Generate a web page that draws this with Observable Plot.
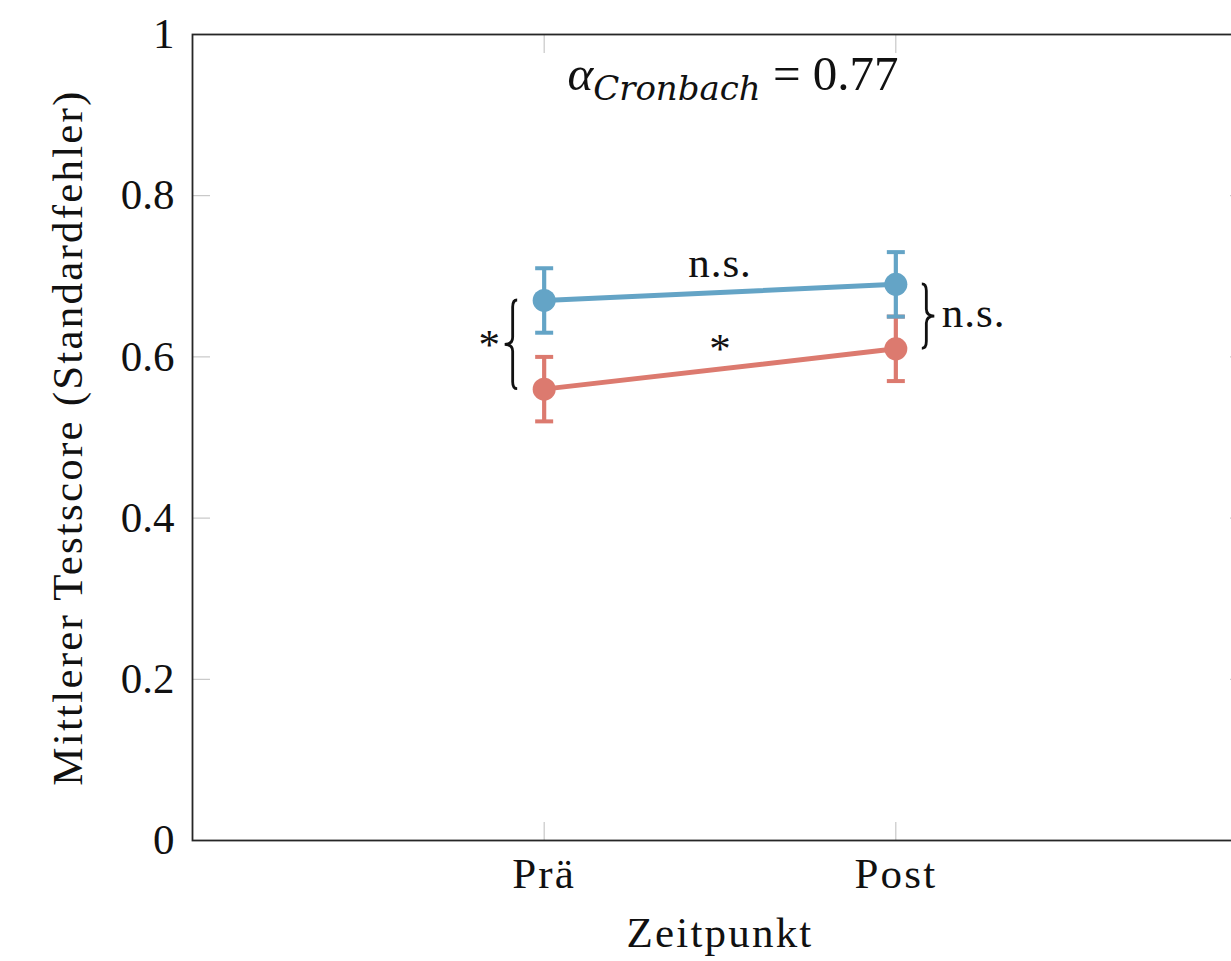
<!DOCTYPE html>
<html><head><meta charset="utf-8">
<script src="https://cdn.jsdelivr.net/npm/d3@7"></script>
<script src="https://cdn.jsdelivr.net/npm/@observablehq/plot@0.6"></script>
<style>
html,body{margin:0;padding:0;background:#fff;overflow:hidden;}
#chart{width:1231px;height:961px;overflow:hidden;}
</style>
</head><body><div id="chart"></div>
<script>
// ---- data ----
const timepoints = ["Prä", "Post"];
const timeIndex = [1, 2];
const blueMeans = [0.67, 0.69];
const blueErrors = [0.04, 0.04];
const redMeans = [0.56, 0.61];
const redErrors = [0.04, 0.04];
const yTicks = [0, 0.2, 0.4, 0.6, 0.8, 1];
const yTickLabels = ["0", "0.2", "0.4", "0.6", "0.8", "1"];
const lineSigBlue = "n.s.";
const lineSigRed = "*";
const groupSigPre = "*";
const groupSigPost = "n.s.";
const titleMain = "α";
const titleSub = "Cronbach";
const titleRest = " = 0.77";
const yLabel = "Mittlerer Testscore (Standardfehler)";
const xLabel = "Zeitpunkt";

const BLUE = "#64a4c6";
const RED = "#dc7a6f";
const FONT = "'Liberation Serif', 'Times New Roman', serif";

const blueRows = timeIndex.map((t, i) => ({t, m: blueMeans[i], e: blueErrors[i]}));
const redRows = timeIndex.map((t, i) => ({t, m: redMeans[i], e: redErrors[i]}));

const capSymbol = {
  draw(ctx, size) {
    const r = Math.sqrt(size / Math.PI);
    ctx.moveTo(-r, 0);
    ctx.lineTo(r, 0);
  }
};

function seriesMarks(rows, color) {
  return [
    Plot.ruleX(rows, {x: "t", y1: d => d.m - d.e, y2: d => d.m + d.e, stroke: color, strokeWidth: 4.2}),
    Plot.dot(rows, {x: "t", y: d => d.m - d.e, symbol: capSymbol, r: 9, stroke: color, strokeWidth: 4, fill: "none"}),
    Plot.dot(rows, {x: "t", y: d => d.m + d.e, symbol: capSymbol, r: 9, stroke: color, strokeWidth: 4, fill: "none"}),
    Plot.line(rows, {x: "t", y: "m", stroke: color, strokeWidth: 5}),
    Plot.dot(rows, {x: "t", y: "m", r: 11.5, fill: color, stroke: "none"})
  ];
}

// curly brace between two y values at a given x (pixel offset from x)
function braceMark(xVal, yA, yB, offset, dir) {
  return (index, scales) => {
    const xs = scales.x(xVal) + offset;
    const y1 = Math.min(scales.y(yA), scales.y(yB));
    const y2 = Math.max(scales.y(yA), scales.y(yB));
    const ym = (y1 + y2) / 2, r = 7, end = 4.5, tip = 8;
    const d = `M${xs - dir * end},${y1} Q${xs},${y1} ${xs},${y1 + r} L${xs},${ym - r} ` +
      `Q${xs},${ym} ${xs + dir * tip},${ym} Q${xs},${ym} ${xs},${ym + r} L${xs},${y2 - r} ` +
      `Q${xs},${y2} ${xs - dir * end},${y2}`;
    const p = document.createElementNS("http://www.w3.org/2000/svg", "path");
    p.setAttribute("d", d);
    p.setAttribute("fill", "none");
    p.setAttribute("stroke", "#111");
    p.setAttribute("stroke-width", "2.8");
    return p;
  };
}

const midT = d3.mean(timeIndex);
const tickStroke = "#bdbdbd";
const fmtX = d => timepoints[timeIndex.indexOf(d)] ?? "";
const fmtY = d => yTickLabels[yTicks.indexOf(d)] ?? "";

const svg = Plot.plot({
  width: 1260,
  height: 961,
  marginTop: 34,
  marginBottom: 121,
  marginLeft: 192,
  marginRight: 13,
  style: {fontFamily: FONT, fontSize: "43px", maxWidth: "none", background: "#fff", color: "#111"},
  x: {domain: [0, 3]},
  y: {domain: [0, 1]},
  marks: [
    // inward tick marks on all four sides
    Plot.axisX({anchor: "bottom", ticks: timeIndex, tickSize: -18, tickFormat: () => "", stroke: tickStroke, label: null}),
    Plot.axisX({anchor: "top", ticks: timeIndex, tickSize: -18, tickFormat: () => "", stroke: tickStroke, label: null}),
    Plot.axisY({anchor: "left", ticks: yTicks, tickSize: -18, tickFormat: () => "", stroke: tickStroke, label: null}),
    Plot.axisY({anchor: "right", ticks: yTicks, tickSize: -18, tickFormat: () => "", stroke: tickStroke, label: null}),
    // tick labels
    Plot.axisX({anchor: "bottom", ticks: timeIndex, tickSize: 0, tickPadding: 17, tickFormat: fmtX, label: null, fontSize: 43}),
    Plot.axisY({anchor: "left", ticks: yTicks, tickSize: 0, tickPadding: 18, tickFormat: fmtY, label: null, fontSize: 43}),
    Plot.frame({stroke: "#262626", strokeWidth: 1.8}),
    // axis titles
    Plot.text([yLabel], {frameAnchor: "left", dx: -124, rotate: -90, textAnchor: "middle", lineAnchor: "middle", text: d => d, fontSize: 43}),
    Plot.text([xLabel], {frameAnchor: "bottom", dy: 93, textAnchor: "middle", lineAnchor: "middle", text: d => d, fontSize: 43}),
    // series
    ...seriesMarks(redRows, RED),
    ...seriesMarks(blueRows, BLUE),
    // significance annotations along lines
    Plot.text([lineSigBlue], {x: midT, y: d3.mean(blueMeans), dy: -29, text: d => d, fontSize: 43}),
    Plot.text([lineSigRed], {x: midT, y: d3.mean(redMeans), dy: -20, text: d => d, fontSize: 43}),
    // braces between groups
    braceMark(timeIndex[0], blueMeans[0], redMeans[0], -31, -1),
    braceMark(timeIndex[1], blueMeans[1], redMeans[1], 31, 1),
    Plot.text([groupSigPre], {x: timeIndex[0], y: (blueMeans[0] + redMeans[0]) / 2, dx: -55, dy: 0, text: d => d, fontSize: 43}),
    Plot.text([groupSigPost], {x: timeIndex[1], y: (blueMeans[1] + redMeans[1]) / 2, dx: 46, dy: -3.5, textAnchor: "start", text: d => d, fontSize: 43}),
    // title
    Plot.text([titleMain + titleSub + titleRest], {frameAnchor: "top", dx: 13, dy: 40, textAnchor: "middle", lineAnchor: "middle", text: d => d, fontSize: 49})
  ]
});

// widen word labels a little (reference uses a wider serif face)
const spaced = new Set([yLabel, xLabel, ...timepoints, lineSigBlue, groupSigPost]);
for (const n of svg.querySelectorAll("text")) {
  if (spaced.has(n.textContent)) n.setAttribute("letter-spacing", n.textContent === "n.s." ? "1" : "2.2");
}

// style the title with a real subscript
const full = titleMain + titleSub + titleRest;
const tnode = [...svg.querySelectorAll("text")].find(n => n.textContent === full);
if (tnode) {
  const ns = "http://www.w3.org/2000/svg";
  tnode.textContent = "";
  const a = document.createElementNS(ns, "tspan");
  a.setAttribute("font-style", "italic");
  a.textContent = titleMain;
  const s = document.createElementNS(ns, "tspan");
  s.setAttribute("font-style", "italic");
  s.setAttribute("font-family", "'DejaVu Serif', serif");
  s.setAttribute("font-size", "34");
  s.setAttribute("dy", "10");
  s.textContent = titleSub;
  const r = document.createElementNS(ns, "tspan");
  r.setAttribute("dy", "-10");
  r.textContent = titleRest;
  tnode.append(a, s, r);
}

document.getElementById("chart").appendChild(svg);
</script>
</body></html>
